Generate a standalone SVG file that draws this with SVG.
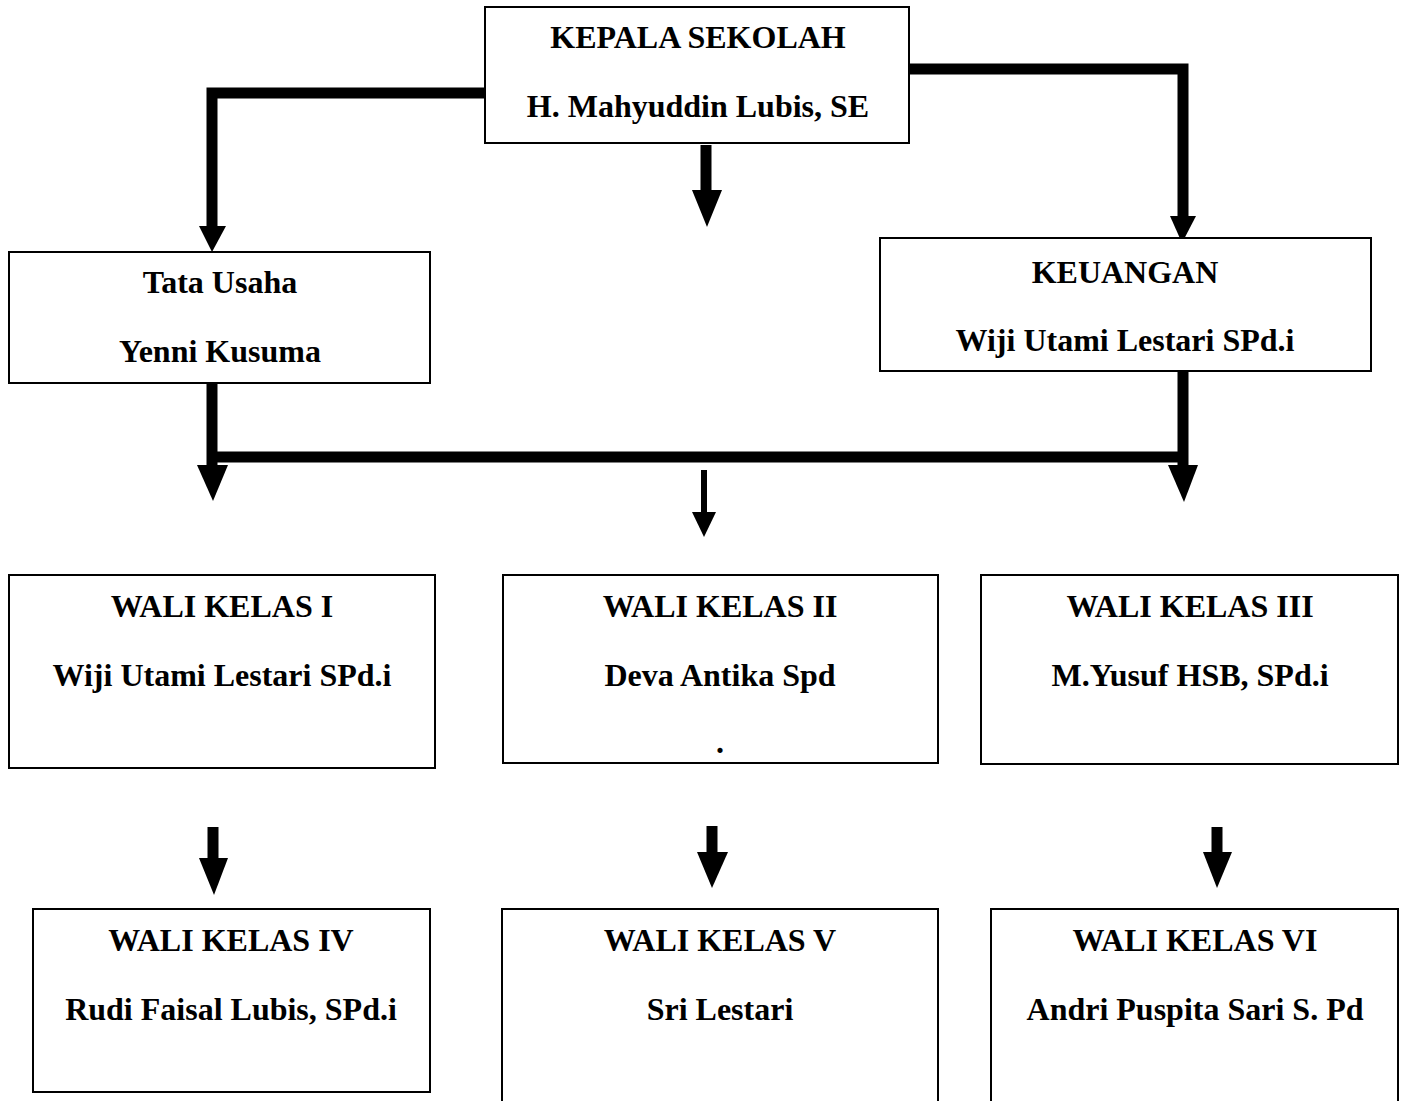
<svg xmlns="http://www.w3.org/2000/svg" width="1405" height="1101" viewBox="0 0 1405 1101">
<style>
.box{fill:#fff;stroke:#000;stroke-width:2}
.t{font-family:"Liberation Serif","Times New Roman",serif;font-weight:bold;font-size:32px;text-anchor:middle;fill:#000}
.ln{fill:none;stroke:#000;stroke-width:11}
.thin{fill:none;stroke:#000;stroke-width:6}
.hd{fill:#000}
</style>
<rect width="1405" height="1101" fill="#fff"/>
<g id="connectors">
<polyline class="ln" points="486,93 212,93 212,228"/>
<polygon class="hd" points="199,226 226,226 212,252"/>
<line class="ln" x1="706" y1="145" x2="706" y2="192"/>
<polygon class="hd" points="692,190 722,190 707,227"/>
<polyline class="ln" points="908,69 1183,69 1183,218"/>
<polygon class="hd" points="1170,216 1196,216 1182,243"/>
<line class="ln" x1="212" y1="383" x2="212" y2="468"/>
<polygon class="hd" points="197,465 228,465 213,501"/>
<line class="ln" x1="207" y1="457" x2="1188" y2="457"/>
<line class="ln" x1="1183" y1="371" x2="1183" y2="468"/>
<polygon class="hd" points="1168,465 1198,465 1184,502"/>
<line class="thin" x1="704" y1="470" x2="704" y2="514"/>
<polygon class="hd" points="692,512 716,512 704,537"/>
<line class="ln" x1="213" y1="827" x2="213" y2="860"/>
<polygon class="hd" points="199,858 228,858 214,895"/>
<line class="ln" x1="712" y1="826" x2="712" y2="854"/>
<polygon class="hd" points="697,852 728,852 712,888"/>
<line class="ln" x1="1217" y1="827" x2="1217" y2="854"/>
<polygon class="hd" points="1203,852 1232,852 1217,888"/>
</g>
<g id="kepala">
<rect class="box" x="485" y="7" width="424" height="136"/>
<text class="t" x="698" y="48">KEPALA SEKOLAH</text>
<text class="t" x="698" y="117">H. Mahyuddin Lubis, SE</text>
</g>
<g id="tatausaha">
<rect class="box" x="9" y="252" width="421" height="131"/>
<text class="t" x="220" y="293">Tata Usaha</text>
<text class="t" x="220" y="362">Yenni Kusuma</text>
</g>
<g id="keuangan">
<rect class="box" x="880" y="238" width="491" height="133"/>
<text class="t" x="1125" y="283">KEUANGAN</text>
<text class="t" x="1125" y="351">Wiji Utami Lestari SPd.i</text>
</g>
<g id="wali1">
<rect class="box" x="9" y="575" width="426" height="193"/>
<text class="t" x="222" y="617">WALI KELAS I</text>
<text class="t" x="222" y="686">Wiji Utami Lestari SPd.i</text>
</g>
<g id="wali2">
<rect class="box" x="503" y="575" width="435" height="188"/>
<text class="t" x="720" y="617">WALI KELAS II</text>
<text class="t" x="720" y="686">Deva Antika Spd</text>
<text class="t" x="720" y="753">.</text>
</g>
<g id="wali3">
<rect class="box" x="981" y="575" width="417" height="189"/>
<text class="t" x="1190" y="617">WALI KELAS III</text>
<text class="t" x="1190" y="686">M.Yusuf HSB, SPd.i</text>
</g>
<g id="wali4">
<rect class="box" x="33" y="909" width="397" height="183"/>
<text class="t" x="231" y="951">WALI KELAS IV</text>
<text class="t" x="231" y="1020">Rudi Faisal Lubis, SPd.i</text>
</g>
<g id="wali5">
<rect class="box" x="502" y="909" width="436" height="200"/>
<text class="t" x="720" y="951">WALI KELAS V</text>
<text class="t" x="720" y="1020">Sri Lestari</text>
</g>
<g id="wali6">
<rect class="box" x="991" y="909" width="407" height="200"/>
<text class="t" x="1195" y="951">WALI KELAS VI</text>
<text class="t" x="1195" y="1020">Andri Puspita Sari S. Pd</text>
</g>
</svg>
